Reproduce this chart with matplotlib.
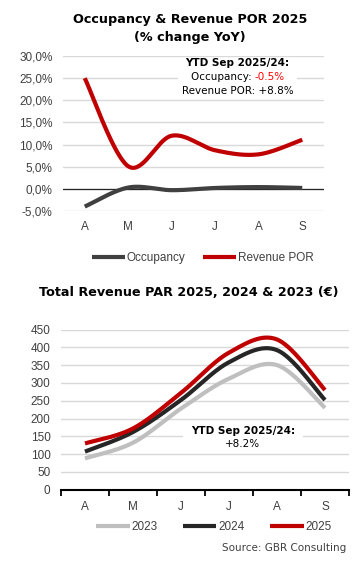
import numpy as np
import matplotlib
matplotlib.use("Agg")
import matplotlib.pyplot as plt
from matplotlib.patches import Rectangle
from matplotlib.ticker import FuncFormatter

months = ["A", "M", "J", "J", "A", "S"]
occupancy = [-4.0, 0.3, -0.3, 0.2, 0.4, 0.2]
revenue_por = [25.0, 5.1, 12.0, 8.7, 7.8, 11.1]

rev_2023 = [88, 132, 228, 312, 350, 230]
rev_2024 = [107, 162, 252, 358, 392, 252]
rev_2025 = [130, 172, 272, 385, 422, 280]

RED = "#C00000"
DARK = "#404040"
BLACK = "#262626"
GRAY = "#BFBFBF"
GRID = "#D9D9D9"
TXT = "#404040"
TICKFONT = ["Liberation Sans", "DejaVu Sans"]


def smooth(vals, n=40):
    y = np.asarray(vals, float)
    x = np.arange(len(y), dtype=float)
    P = np.column_stack([x, y])
    P = np.vstack([P[0], P, P[-1]])
    out = []
    t = np.linspace(0, 1, n)[:, None]
    for i in range(1, len(P) - 2):
        p0, p1, p2, p3 = P[i - 1], P[i], P[i + 1], P[i + 2]
        c1 = p1 + (p2 - p0) / 6.0
        c2 = p2 - (p3 - p1) / 6.0
        seg = ((1 - t) ** 3) * p1 + 3 * ((1 - t) ** 2) * t * c1 + 3 * (1 - t) * t ** 2 * c2 + t ** 3 * p2
        out.append(seg if i == 1 else seg[1:])
    s = np.vstack(out)
    return s[:, 0], s[:, 1]


W, H = 364, 571
fig = plt.figure(figsize=(W / 100, H / 100), dpi=100)
fig.patch.set_facecolor("white")


def fx(px):
    return px / W


def fy(py):
    return 1 - py / H


# ---------- top chart ----------
ax1 = fig.add_axes([fx(63), fy(211), fx(324) - fx(63), fy(56) - fy(211)])
ax1.set_xlim(-0.5, 5.5)
ax1.set_ylim(-5, 30)
ax1.set_yticks(np.arange(-5, 31, 5))
ax1.yaxis.set_major_formatter(FuncFormatter(lambda v, p: f"{v:.1f}%".replace(".", ",")))
ax1.set_xticks(range(len(months)))
ax1.set_xticklabels(months)
ax1.set_axisbelow(True)
ax1.grid(axis="y", color=GRID, linewidth=1.0)
for s in ax1.spines.values():
    s.set_visible(False)
ax1.axhline(0, color="#262626", linewidth=0.9, zorder=1.2)
ax1.tick_params(axis="both", length=0, labelsize=8.5, colors=TXT, pad=7.5)
ax1.tick_params(axis="x", pad=7.5)
for lab in ax1.get_xticklabels() + ax1.get_yticklabels():
    lab.set_family(TICKFONT)

xs, ys = smooth(occupancy)
ax1.plot(xs, ys, color=DARK, linewidth=3.0, solid_capstyle="butt", label="Occupancy", zorder=3)
xs, ys = smooth(revenue_por)
ax1.plot(xs, ys, color=RED, linewidth=3.0, solid_capstyle="butt", label="Revenue POR", zorder=3)

ax1.add_patch(Rectangle((fx(178), fy(96)), fx(297) - fx(178), fy(60) - fy(96),
                        transform=fig.transFigure, facecolor="white", edgecolor="none", zorder=1.5))
fig.text(fx(237), fy(63), "YTD Sep 2025/24:", ha="center", va="center",
         fontsize=7.5, fontweight="bold", color="black")
fig.text(fx(255), fy(77.5), "Occupancy: ", ha="right", va="center", fontsize=7.5, color="black")
fig.text(fx(255), fy(77.5), "-0.5%", ha="left", va="center", fontsize=7.5, color="#FF0000")
fig.text(fx(238), fy(91), "Revenue POR: +8.8%", ha="center", va="center", fontsize=7.5, color="black")

fig.text(fx(190), fy(20), "Occupancy & Revenue POR 2025", ha="center", va="center",
         fontsize=9.2, fontweight="bold", color="black")
fig.text(fx(190), fy(37), "(% change YoY)", ha="center", va="center",
         fontsize=9.2, fontweight="bold", color="black")

leg1 = fig.legend(*ax1.get_legend_handles_labels(), loc="center", bbox_to_anchor=(fx(203), fy(258)),
                  ncol=2, frameon=False, handlelength=2.8, handletextpad=0.15, columnspacing=1.5,
                  prop={"family": TICKFONT, "size": 8.5})
for t in leg1.get_texts():
    t.set_color(TXT)

# ---------- bottom chart ----------
ax2 = fig.add_axes([fx(61), fy(489.7), fx(349) - fx(61), fy(329.5) - fy(489.7)])
ax2.set_xlim(-0.5, 5.5)
ax2.set_ylim(0, 450)
ax2.set_yticks(np.arange(0, 451, 50))
ax2.set_xticks(range(len(months)))
ax2.set_xticklabels(months)
ax2.set_xticks(np.arange(-0.5, 5.6, 1), minor=True)
ax2.set_axisbelow(True)
ax2.grid(axis="y", color=GRID, linewidth=1.0)
for k, s in ax2.spines.items():
    s.set_visible(k == "bottom")
ax2.spines["bottom"].set_color("black")
ax2.spines["bottom"].set_linewidth(1.5)
ax2.tick_params(axis="y", length=0, labelsize=8.5, colors=TXT, pad=7.5)
ax2.tick_params(axis="x", which="major", length=0, labelsize=8.5, colors=TXT, pad=8)
ax2.tick_params(axis="x", which="minor", length=4, width=1.3, color="black", direction="out")
for lab in ax2.get_xticklabels() + ax2.get_yticklabels():
    lab.set_family(TICKFONT)

for vals, col, lab in [(rev_2023, GRAY, "2023"), (rev_2024, BLACK, "2024"), (rev_2025, RED, "2025")]:
    xs, ys = smooth(vals)
    ax2.plot(xs, ys, color=col, linewidth=3.0, solid_capstyle="butt", label=lab, zorder=3)

ax2.add_patch(Rectangle((fx(183), fy(450)), fx(303) - fx(183), fy(424) - fy(450),
                        transform=fig.transFigure, facecolor="white", edgecolor="none", zorder=1.5))
fig.text(fx(243), fy(431), "YTD Sep 2025/24:", ha="center", va="center",
         fontsize=7.5, fontweight="bold", color="black")
fig.text(fx(243), fy(444), "+8.2%", ha="center", va="center", fontsize=7.5, color="black")

fig.text(fx(189), fy(293), "Total Revenue PAR 2025, 2024 & 2023 (\u20ac)", ha="center", va="center",
         fontsize=9.2, fontweight="bold", color="black")

leg2 = fig.legend(*ax2.get_legend_handles_labels(), loc="center", bbox_to_anchor=(fx(214), fy(527)),
                  ncol=3, frameon=False, handlelength=2.8, handletextpad=0.15, columnspacing=2.2,
                  prop={"family": TICKFONT, "size": 8.5})
for t in leg2.get_texts():
    t.set_color(TXT)

fig.text(fx(346), fy(548), "Source: GBR Consulting", ha="right", va="center",
         fontsize=7.5, color=TXT)

fig.savefig("out.png", dpi=100, facecolor="white")
